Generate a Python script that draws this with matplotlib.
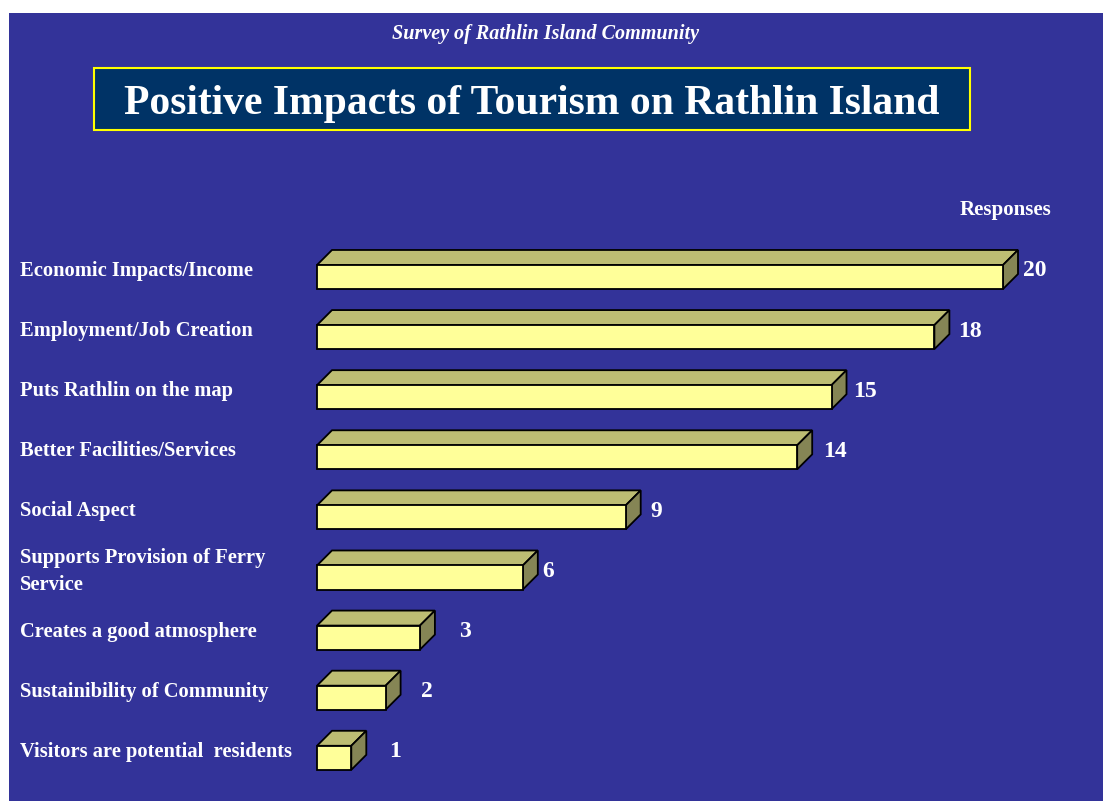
import matplotlib
matplotlib.use('Agg')
from matplotlib import pyplot as plt
from matplotlib.patches import Polygon, Rectangle
from matplotlib import transforms

plt.rcParams['font.family'] = ['Liberation Serif', 'DejaVu Serif']

categories = [
    'Economic Impacts/Income',
    'Employment/Job Creation',
    'Puts Rathlin on the map',
    'Better Facilities/Services',
    'Social Aspect',
    'Supports Provision of Ferry\nService',
    'Creates a good atmosphere',
    'Sustainibility of Community',
    'Visitors are potential  residents',
]
responses = [20, 18, 15, 14, 9, 6, 3, 2, 1]

# gap between the bar end and its number (data units)
label_pad = [0.58, 0.7, 0.63, 0.76, 0.73, 0.58, 1.14, 1.02, 1.1]

BG = '#333399'
FRONT = '#ffff99'
TOP = '#bdbd73'
SIDE = '#858555'

W, H = 1103, 801
fig = plt.figure(figsize=(W / 100, H / 100), dpi=100, facecolor='white')

# blue slide background
fig.patches.append(Rectangle((9 / W, 0), 1 - 9 / W, 1 - 13 / H,
                             transform=fig.transFigure, facecolor=BG,
                             edgecolor='none', zorder=-10))

# title box
fig.patches.append(Rectangle((94 / W, 1 - 130 / H), 876 / W, 62 / H,
                             transform=fig.transFigure, facecolor='#003366',
                             edgecolor='#ffff00', linewidth=1.5, zorder=-5))
fig.text(532 / W, 1 - 104 / H, 'Positive Impacts of Tourism on Rathlin Island',
         ha='center', va='center', color='white', fontsize=30,
         fontweight='bold')
fig.text(545 / W, 1 - 34 / H, 'Survey of Rathlin Island Community',
         ha='center', va='center', color='white', fontsize=14.5,
         fontweight='bold', style='italic')
fig.text(1005 / W, 1 - 210 / H, 'Responses', ha='center', va='center',
         color='white', fontsize=15, fontweight='bold')

# chart area: x in responses, y in category index (0 at top)
px_per_unit = 34.3
px_per_row = 60.1
xmax = 22
ax_left, ax_top = 317, 277 - px_per_row
ax_bottom = 277 + px_per_row * 8.5
ax = fig.add_axes([ax_left / W, 1 - ax_bottom / H,
                   xmax * px_per_unit / W, (ax_bottom - ax_top) / H])
ax.set_xlim(0, xmax)
ax.set_ylim(8.5, -1)
ax.axis('off')

half = 0.2               # half the front face height
dx = 15 / px_per_unit    # depth offset
dy = 15 / px_per_row

for i, v in enumerate(responses):
    y0, y1 = i + half, i - half
    front = [(0, y0), (v, y0), (v, y1), (0, y1)]
    top = [(0, y1), (v, y1), (v + dx, y1 - dy), (dx, y1 - dy)]
    side = [(v, y0), (v, y1), (v + dx, y1 - dy), (v + dx, y0 - dy)]
    for pts, col in ((top, TOP), (side, SIDE), (front, FRONT)):
        ax.add_patch(Polygon(pts, closed=True, facecolor=col,
                             edgecolor='black', linewidth=1.3,
                             joinstyle='miter', clip_on=False))
    ax.text(v + label_pad[i], i - 0.1, str(v), ha='left', va='center',
            color='white', fontsize=17, fontweight='bold')

lab_tr = transforms.blended_transform_factory(fig.transFigure, ax.transData)
for i, c in enumerate(categories):
    ax.text(20 / W, i - 0.1, c, transform=lab_tr, ha='left', va='center',
            color='white', fontsize=14.8, fontweight='bold', linespacing=1.45)

fig.savefig('out.png', dpi=100, facecolor=fig.get_facecolor())
